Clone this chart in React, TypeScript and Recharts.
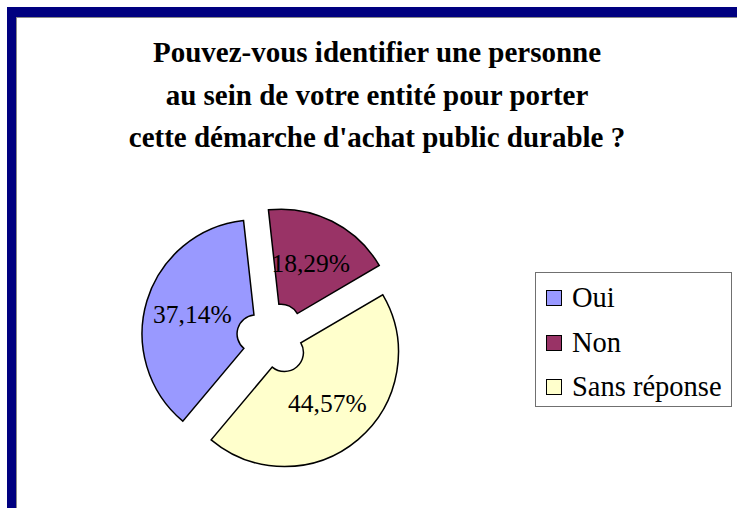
import React from 'react';
import { PieChart, Pie, Cell } from 'recharts';

const categories = ['Oui', 'Non', 'Sans réponse'];
const values = [37.14, 18.29, 44.57];
const colors = ['#9999FF', '#993366', '#FFFFCC'];

const titleLines = [
    'Pouvez-vous identifier une personne',
    'au sein de votre entité pour porter',
    "cette démarche d'achat public durable ?",
];

const FONT = '"Liberation Serif", "Times New Roman", serif';
const CX = 268;
const CY = 334;
const START = -130;
const EXPLODE = 17.7;

const chartData = categories.map((name, i) => ({ name, value: values[i] }));

// mid angle of each slice, to push it outward (exploded pie)
const total = values.reduce((s, v) => s + v, 0);
const offsets = values.map((v, i) => {
    const before = values.slice(0, i).reduce((s, x) => s + x, 0);
    const mid = START - ((before + v / 2) / total) * 360;
    const rad = (mid * Math.PI) / 180;
    return { dx: EXPLODE * Math.cos(rad), dy: -EXPLODE * Math.sin(rad) };
});

const formatPct = (v: number) => `${v.toFixed(2).replace('.', ',')}%`;

const makeLabel = (k: number) => (props: any) => {
    const { cx, cy, midAngle, innerRadius, outerRadius, index } = props;
    if (index !== k) return null;
    const r = (innerRadius + outerRadius) / 2;
    const rad = (midAngle * Math.PI) / 180;
    const x = cx + r * Math.cos(rad);
    const y = cy - r * Math.sin(rad);
    return (
        <text x={x} y={y} textAnchor="middle" dominantBaseline="central" fill="#000" fontFamily={FONT} fontSize={25.5}>
            {formatPct(values[index])}
        </text>
    );
};

export default function App() {
    return (
        <div style={{ position: 'absolute', left: 0, top: 0, width: 737, height: 508, background: '#fff', overflow: 'hidden', fontFamily: FONT }}>
            <div style={{ position: 'absolute', left: 7, top: 7, width: 730, height: 10, background: '#000080' }} />
            <div style={{ position: 'absolute', left: 7, top: 7, width: 9, height: 501, background: '#000080' }} />
            <div style={{ position: 'absolute', left: 16, top: 17, width: 721, height: 1, background: '#8a8a8a' }} />
            <div style={{ position: 'absolute', left: 16, top: 17, width: 1, height: 491, background: '#8a8a8a' }} />

            <div style={{ position: 'absolute', left: 17, top: 31, width: 720, textAlign: 'center', fontWeight: 'bold', fontSize: 29, lineHeight: '42.5px', color: '#000' }}>
                {titleLines.map((l, i) => <div key={i}>{l}</div>)}
            </div>

            <div style={{ position: 'absolute', left: 0, top: 0 }}>
                <PieChart width={737} height={508}>
                    {values.map((_, k) => (
                        <Pie
                            key={k}
                            data={chartData}
                            dataKey="value"
                            nameKey="name"
                            cx={CX + offsets[k].dx}
                            cy={CY + offsets[k].dy}
                            innerRadius={19}
                            outerRadius={114}
                            startAngle={START}
                            endAngle={START - 360}
                            paddingAngle={0}
                            label={makeLabel(k)}
                            labelLine={false}
                            isAnimationActive={false}
                        >
                            {chartData.map((entry, i) => (
                                <Cell
                                    key={`cell-${i}`}
                                    fill={i === k ? colors[i] : 'none'}
                                    stroke={i === k ? '#000' : 'none'}
                                    strokeWidth={1.5}
                                />
                            ))}
                        </Pie>
                    ))}
                </PieChart>
            </div>

            <div style={{ position: 'absolute', left: 535, top: 272, width: 197, height: 135, boxSizing: 'border-box', border: '1px solid #707070', paddingTop: 3, background: '#fff' }}>
                {categories.map((c, i) => (
                    <div key={c} style={{ display: 'flex', alignItems: 'center', height: 44.5, paddingLeft: 10 }}>
                        <span style={{ display: 'inline-block', width: 14, height: 14, border: '1.5px solid #000', background: colors[i], marginRight: 10 }} />
                        <span style={{ fontSize: 28.5, color: '#000', lineHeight: '30px' }}>{c}</span>
                    </div>
                ))}
            </div>
        </div>
    );
}
